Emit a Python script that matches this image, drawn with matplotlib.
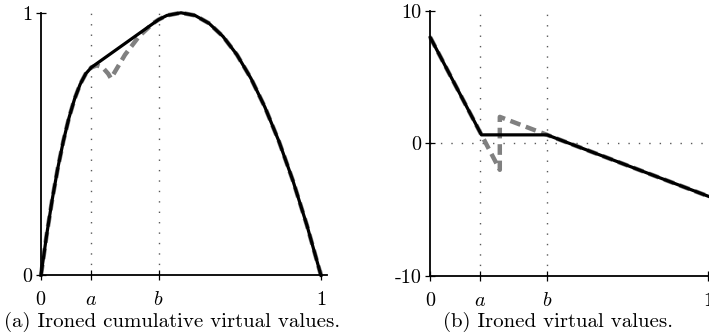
import matplotlib
matplotlib.use("Agg")
import matplotlib.pyplot as plt

plt.rcParams["font.family"] = "cmr10"
plt.rcParams["mathtext.fontset"] = "cm"
plt.rcParams["axes.unicode_minus"] = False

# ironing interval ends
a = 0.18
b = 0.42

# (a) cumulative virtual values, original (dashed) and ironed (solid)
cum_x = [0, 0.02, 0.04, 0.06, 0.08, 0.10, 0.12, 0.14, 0.16, 0.18, 0.20, 0.22, 0.24, 0.25,
         0.30, 0.35, 0.40, 0.42, 0.45, 0.50, 0.55, 0.60, 0.65, 0.70, 0.75, 0.80, 0.85,
         0.90, 0.95, 1.0]
cum_y = [0, 0.152, 0.288, 0.408, 0.512, 0.60, 0.672, 0.728, 0.768, 0.792, 0.80, 0.792,
         0.768, 0.75, 0.84, 0.91, 0.96, 0.974, 0.99, 1.0, 0.99, 0.96, 0.91, 0.84, 0.75,
         0.64, 0.51, 0.36, 0.19, 0]
iron_cum_x = [0, 0.02, 0.04, 0.06, 0.08, 0.10, 0.12, 0.14, 0.16, 0.18, 0.42, 0.45, 0.50,
              0.55, 0.60, 0.65, 0.70, 0.75, 0.80, 0.85, 0.90, 0.95, 1.0]
iron_cum_y = [0, 0.152, 0.288, 0.408, 0.512, 0.60, 0.672, 0.728, 0.768, 0.792, 0.974,
              0.99, 1.0, 0.99, 0.96, 0.91, 0.84, 0.75, 0.64, 0.51, 0.36, 0.19, 0]

# (b) virtual values, original (dashed) and ironed (solid)
vv_x = [0, 0.25, 0.25, 1.0]
vv_y = [8, -2, 2, -4]
iron_vv_x = [0, 0.184, 0.42, 1.0]
iron_vv_y = [8, 0.64, 0.64, -4]

x_ticks = [0, a, b, 1]
x_labels = ["$0$", "$a$", "$b$", "$1$"]

fig = plt.figure(figsize=(7.09, 3.34), dpi=100)
ax1 = fig.add_axes([0.0578, 0.1757, 0.4028, 0.786])
ax2 = fig.add_axes([0.6069, 0.1746, 0.4, 0.7925])

dots = (0, (1, 6.5))


def style_axes(ax, ylim, yticks, ylabels):
    ax.set_xlim(0, 1.02)
    ax.set_ylim(*ylim)
    for s in ["top", "right"]:
        ax.spines[s].set_visible(False)
    for s in ["left", "bottom"]:
        ax.spines[s].set_linewidth(1.3)
    ax.set_xticks(x_ticks)
    ax.set_xticklabels(x_labels)
    ax.set_yticks(yticks)
    ax.set_yticklabels(ylabels)
    ax.tick_params(direction="inout", length=7, width=0.9, labelsize=14.5)
    ax.tick_params(axis="x", pad=8)
    ax.tick_params(axis="y", pad=3)
    ax.vlines([a, b], ylim[0], ylim[1], colors="0.35", linewidth=1.0,
              linestyles=dots, zorder=1)


style_axes(ax1, (0, 1), [0, 1], ["0", "1"])
style_axes(ax2, (-10, 10), [-10, 0, 10], ["-10", "0", "10"])
ax2.hlines(0, 0, 1.02, colors="0.35", linewidth=1.0, linestyles=dots, zorder=1)

for ax, xo, yo, xi, yi in [(ax1, cum_x, cum_y, iron_cum_x, iron_cum_y),
                           (ax2, vv_x, vv_y, iron_vv_x, iron_vv_y)]:
    ax.plot(xo, yo, color="#808080", linewidth=3.2, linestyle=(0, (2.4, 1.3)),
            dash_capstyle="butt", clip_on=False, zorder=2)
    ax.plot(xi, yi, color="black", linewidth=2.3, solid_joinstyle="round",
            clip_on=False, zorder=3)

fig.text(0.2433, 0.022, "(a) Ironed cumulative virtual values.", ha="center",
         va="baseline", fontsize=15)
fig.text(0.7876, 0.022, "(b) Ironed virtual values.", ha="center",
         va="baseline", fontsize=15)

fig.savefig("out.png", dpi=100)
